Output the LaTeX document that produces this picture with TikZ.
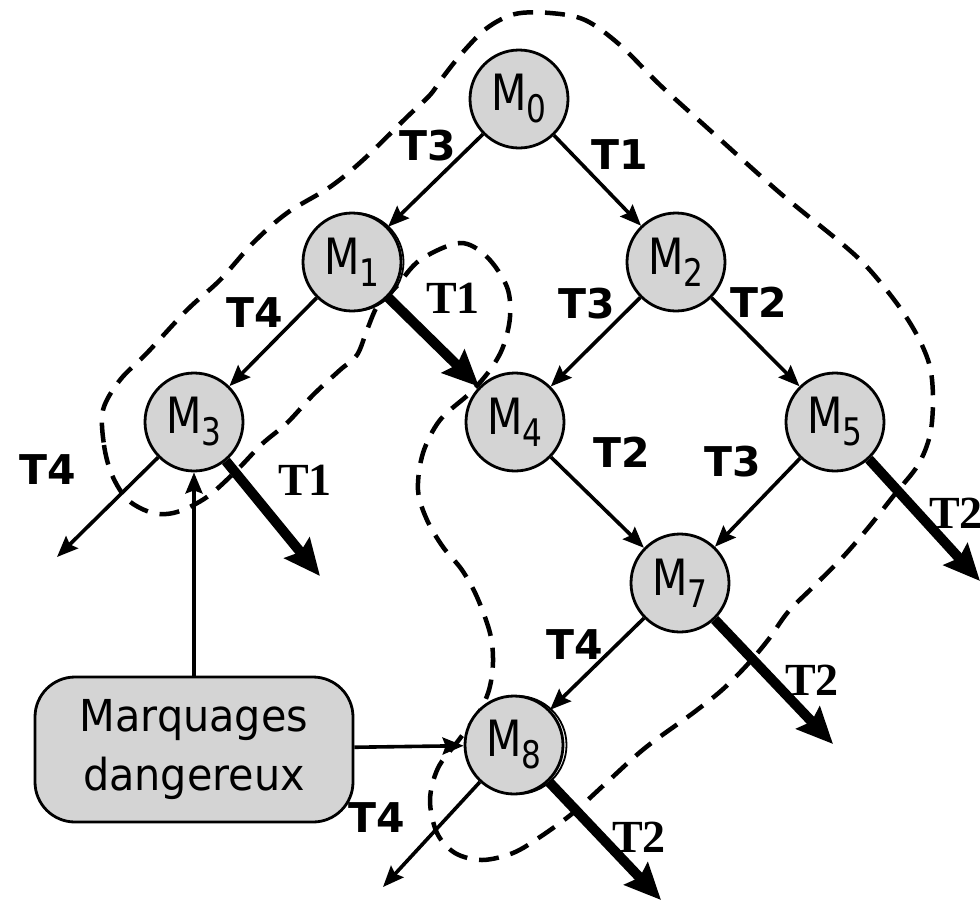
\documentclass[tikz,border=0pt]{standalone}
\usepackage{fontspec}
\setmainfont{DejaVu Sans}
\newfontfamily\mfont[FakeStretch=0.82]{DejaVu Sans}
\newfontfamily\bxfont[FakeStretch=0.94]{DejaVu Sans}
\newfontfamily\serfont{Liberation Serif}
\usetikzlibrary{arrows.meta}
\newcommand\Mlab[1]{{\mfont\fontsize{50}{50}\selectfont M\raisebox{-12pt}{\fontsize{38}{38}\selectfont #1}}}
\tikzset{
  state/.style={circle, draw, line width=2.8pt, fill=black!17, minimum size=98pt, inner sep=0pt},
  tarc/.style={line width=3.6pt, -{Stealth[length=21pt,width=17pt,inset=3pt]}},
  tfire/.style={line width=10pt, -{Stealth[length=36pt,width=32pt,inset=5pt]}},
  lbl/.style={font=\fontsize{41}{41}\selectfont\bfseries, inner sep=0pt},
  slbl/.style={font=\serfont\fontsize{46}{46}\selectfont\bfseries, inner sep=0pt},
  zone/.style={line width=4.5pt, dash pattern=on 20pt off 12pt}
}
\begin{document}
\begin{tikzpicture}[x=1pt,y=-1pt]
\useasboundingbox (0,0) rectangle (980,903);
% dashed zone
\draw[zone] plot[smooth cycle, tension=0.55] coordinates {
(103,410) (104,445) (112,475) (128,500) (153,513) (177,512) (207,497)
(237,470) (262,444) (287,423) (313,395) (340,370) (357,355) (367,330)
(378,305) (396,287) (420,260) (460,243) (487,257) (507,287) (510,317)
(503,347) (490,370) (470,393) (440,420) (423,453) (418,490) (427,520)
(443,547) (462,570) (477,597) (490,633) (493,662) (489,690) (478,714)
(458,741) (438,768) (430,800) (437,833) (455,853) (482,860) (513,853)
(540,837) (573,813) (605,784) (645,748) (693,713) (722,690) (747,665)
(768,640) (788,612) (812,588) (842,558) (868,528) (895,494) (918,465)
(930,435) (933,400) (930,367) (918,337) (898,305) (868,268) (840,242)
(780,193) (713,133) (660,85) (620,45) (585,20) (550,13) (515,14)
(487,28) (463,52) (443,77) (430,95) (407,117) (363,160) (330,187)
(287,213) (253,243) (220,280) (187,310) (147,353) (120,380)
};
% doubled outlines
\draw[line width=1.8pt] (354.5,262) circle (49pt);
\draw[line width=1.8pt] (517.5,745) circle (49pt);
% states
\node[state] (M0) at (519,99) {\Mlab{0}};
\node[state] (M1) at (352,262) {\Mlab{1}};
\node[state] (M2) at (676,262) {\Mlab{2}};
\node[state] (M3) at (194,422) {\Mlab{3}};
\node[state] (M4) at (515,422) {\Mlab{4}};
\node[state] (M5) at (835,422) {\Mlab{5}};
\node[state] (M7) at (680,583) {\Mlab{7}};
\node[state] (M8) at (514,745) {\Mlab{8}};
\node[draw, line width=2.8pt, fill=black!17, rounded corners=40pt,
      minimum width=318pt, minimum height=145pt, inner sep=0pt, align=center,
      font=\bxfont\fontsize{44}{59}\selectfont] (box) at (194,749.5) {Marquages\\dangereux};
% free ends
\coordinate (e3a) at (57,557);
\coordinate (e3b) at (320,576);
\coordinate (e5) at (980,581);
\coordinate (e7) at (833,744);
\coordinate (e8a) at (383,887);
\coordinate (e8b) at (661,900);
% arcs
\draw[tarc] (M0) -- (M1);
\draw[tarc] (M0) -- (M2);
\draw[tarc] (M1) -- (M3);
\draw[tfire] (M1) -- (M4);
\draw[tarc] (M2) -- (M4);
\draw[tarc] (M2) -- (M5);
\draw[tarc] (M3) -- (e3a);
\draw[tfire] (M3) -- (e3b);
\draw[tarc] (M4) -- (M7);
\draw[tarc] (M5) -- (M7);
\draw[tfire] (M5) -- (e5);
\draw[tarc] (M7) -- (M8);
\draw[tfire] (M7) -- (e7);
\draw[tarc] (M8) -- (e8a);
\draw[tfire] (M8) -- (e8b);
\draw[tarc] (box) -- (M3);
\draw[tarc] (box) -- (M8);
% labels
\node[lbl] (l1) at (428,146) {T3};
\node[lbl] (l2) at (620,155) {T1};
\node[lbl] (l3) at (255,313) {T4};
\node[slbl] (l4) at (453,298) {T1};
\node[lbl] (l5) at (587,304) {T3};
\node[lbl] (l6) at (759,302) {T2};
\node[lbl] (l7) at (622,452) {T2};
\node[lbl] (l8) at (733,462) {T3};
\node[lbl] (l9) at (48,470) {T4};
\node[slbl] (l10) at (305,480) {T1};
\node[slbl] (l11) at (956,513) {T2};
\node[lbl] (l12) at (575,645) {T4};
\node[slbl] (l13) at (812,680) {T2};
\node[lbl] (l14) at (377,818) {T4};
\node[slbl] (l15) at (639,837) {T2};
\end{tikzpicture}
\end{document}
